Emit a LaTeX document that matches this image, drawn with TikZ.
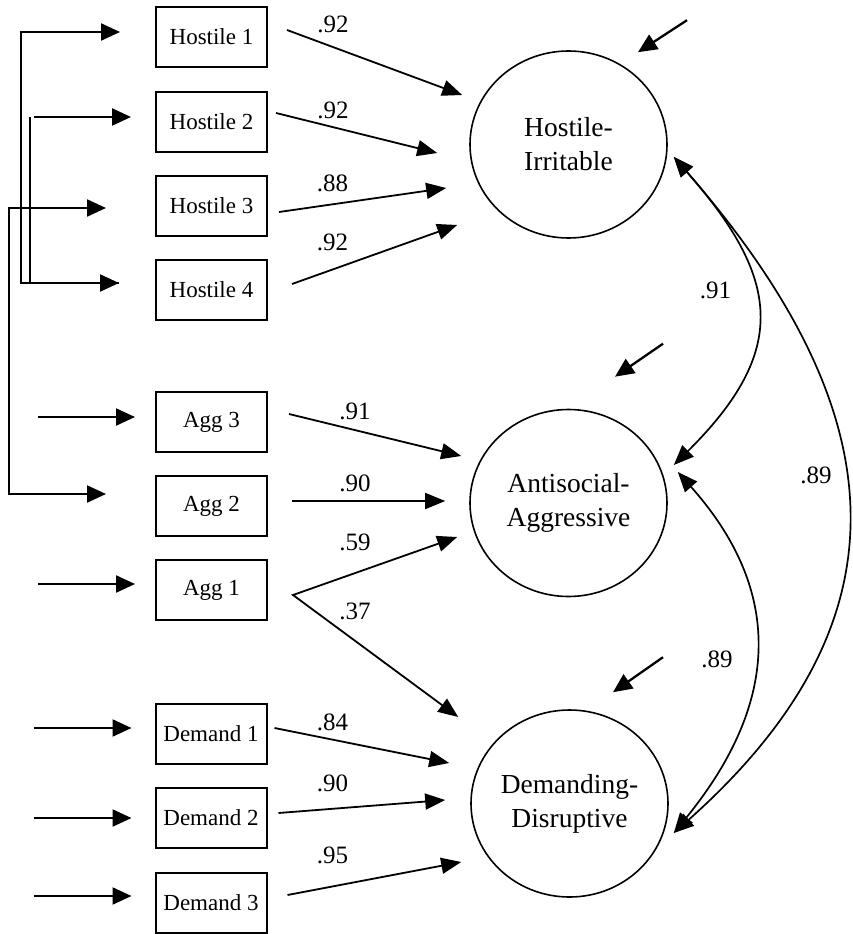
\documentclass[tikz,border=0pt]{standalone}
\usepackage{fontspec}
\setmainfont{Liberation Serif}
\usetikzlibrary{arrows.meta,calc,shapes.geometric}
\begin{document}
\begin{tikzpicture}[x=1pt,y=-1pt,
  obs/.style={draw,line width=2pt,minimum width=111pt,minimum height=60pt,inner sep=0pt,font=\fontsize{23}{27}\selectfont},
  lat/.style={draw,ellipse,line width=1.6pt,minimum width=197pt,minimum height=187pt,inner sep=0pt,align=center,font=\fontsize{27.5}{34}\selectfont},
  etip/.tip={Triangle[length=19pt,width=17pt]},
  ltip/.tip={Triangle[length=20pt,width=16pt]},
  errarr/.style={line width=2.3pt,-etip},
  errline/.style={line width=2.3pt},
  load/.style={line width=1.8pt,-ltip},
  cov/.style={line width=1.7pt,ltip-ltip},
  lab/.style={anchor=base,inner sep=0pt,font=\fontsize{25}{30}\selectfont}]
\useasboundingbox (0,0) rectangle (853,934);

% observed indicators
\node[obs] (h1) at (211.5,37) {Hostile 1};
\node[obs] (h2) at (211.5,122) {Hostile 2};
\node[obs] (h3) at (211.5,206) {Hostile 3};
\node[obs] (h4) at (211.5,290) {Hostile 4};
\node[obs] (a3) at (211.5,422) {Agg 3};
\node[obs] (a2) at (211.5,506) {Agg 2};
\node[obs] (a1) at (211.5,590) {Agg 1};
\node[obs] (d1) at (211,734) {Demand 1};
\node[obs] (d2) at (211,818) {Demand 2};
\node[obs] (d3) at (211,903) {Demand 3};

% latent factors
\node[lat] (HI) at (568.5,144.5) {Hostile-\\Irritable};
\node[lat] (AA) at (568.5,503) {Antisocial-\\Aggressive};
\node[lat] (DD) at (569.5,803.5) {Demanding-\\Disruptive};

% error terms of indicators
\coordinate (eh1) at ($(h1.west)+(-35,-5)$);
\coordinate (eh2) at ($(h2.west)+(-24,-5)$);
\coordinate (eh3) at ($(h3.west)+(-49,2)$);
\coordinate (eh4) at ($(h4.west)+(-36,-7)$);
\coordinate (ea2) at ($(a2.west)+(-49,-12)$);
\draw[errline,etip-etip] (eh1) -- ++(-99,0) |- (eh4);
\draw[errline,etip-] (eh2) -- ++(-97,0);
\draw[errline] ($(eh2)+(-101,0)$) |- (eh4);
\draw[errline,etip-etip] (eh3) -- ++(-97,0) |- (ea2);
\draw[errarr] ($(a3.west)+(-117,-5)$) -- ($(a3.west)+(-20,-5)$);
\draw[errarr] ($(a1.west)+(-117,-6)$) -- ($(a1.west)+(-20,-6)$);
\draw[errarr] ($(d1.west)+(-121,-6)$) -- ($(d1.west)+(-23,-6)$);
\draw[errarr] ($(d2.west)+(-121,0)$) -- ($(d2.west)+(-23,0)$);
\draw[errarr] ($(d3.west)+(-121,-7)$) -- ($(d3.west)+(-23,-7)$);

% disturbances of latent factors
\draw[errarr] ($(HI.north)+(118.5,-30)$) -- ($(HI.north)+(69.5,2)$);
\draw[errarr] ($(AA.north)+(94.5,-65)$) -- ($(AA.north)+(46.5,-32)$);
\draw[errarr] ($(DD.north)+(93.5,-52)$) -- ($(DD.north)+(43.5,-17)$);

% loadings
\draw[load] ($(h1.east)+(19,-7)$) -- ($(HI.west)+(-7,-49.5)$);
\draw[load] ($(h2.east)+(8,-9)$) -- ($(HI.west)+(-32,8.5)$);
\draw[load] ($(h3.east)+(11,6)$) -- ($(HI.west)+(-23,43.5)$);
\draw[load] ($(h4.east)+(24,-6)$) -- ($(HI.west)+(-12,80.5)$);
\draw[load] ($(a3.east)+(21,-8)$) -- ($(AA.west)+(-8,-47)$);
\draw[load] ($(a2.east)+(24,-5)$) -- ($(AA.west)+(-24,-2)$);
\draw[line width=1.8pt,ltip-ltip] ($(AA.west)+(-12,34)$) -- ($(a1.east)+(25,5)$) -- ($(DD.west)+(-12,-86.5)$);
\draw[load] ($(d1.east)+(7,-6)$) -- ($(DD.west)+(-21,-40.5)$);
\draw[load] ($(d2.east)+(11,-5)$) -- ($(DD.west)+(-25,-3.5)$);
\draw[load] ($(d3.east)+(20,-8)$) -- ($(DD.west)+(-9,58.5)$);

% loading labels
\node[lab] (l1) at (333,33) {.92};
\node[lab] (l2) at (333,118) {.92};
\node[lab] (l3) at (332.5,191) {.88};
\node[lab] (l4) at (332.5,250) {.92};
\node[lab] (l5) at (355,419) {.91};
\node[lab] (l6) at (355,491) {.90};
\node[lab] (l7) at (355,550) {.59};
\node[lab] (l8) at (355,619) {.37};
\node[lab] (l9) at (332.5,730) {.84};
\node[lab] (l10) at (332.5,791) {.90};
\node[lab] (l11) at (332.5,863) {.95};

% factor correlations
\draw[cov] ($(HI.east)+(6,12.5)$) .. controls (780,278) and (790,350) .. ($(AA.east)+(6,-38)$);
\draw[cov] ($(HI.east)+(6,12.5)$) .. controls (905,422) and (905,627) .. ($(DD.east)+(5,29.5)$);
\draw[cov] ($(AA.east)+(10,-31)$) .. controls (782,589) and (782,700) .. ($(DD.east)+(5,29.5)$);
\node[lab] (c1) at (715.5,298) {.91};
\node[lab] (c2) at (816,483) {.89};
\node[lab] (c3) at (717,667) {.89};
\end{tikzpicture}
\end{document}
